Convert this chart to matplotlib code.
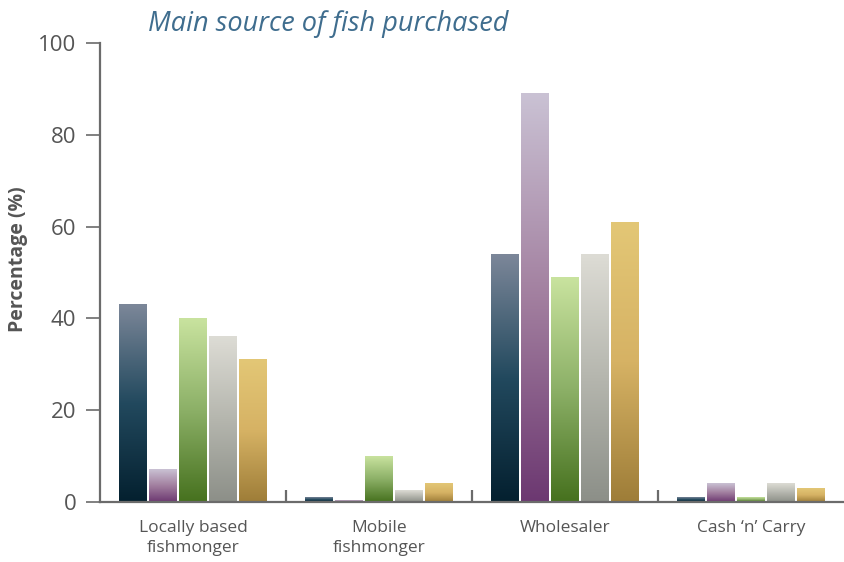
"""Main source of fish purchased: grouped bars with vertical gradients."""

import matplotlib

matplotlib.use("Agg")
import matplotlib.pyplot as plt
import numpy as np
from matplotlib.colors import LinearSegmentedColormap

# --- data -------------------------------------------------------------------
categories = ["Locally based\nfishmonger", "Mobile\nfishmonger", "Wholesaler", "Cash \u2018n\u2019 Carry"]
series_a = [43, 1, 54, 1]      # navy
series_b = [7, 0.3, 89, 4]     # purple
series_c = [40, 10, 49, 1]     # green
series_d = [36, 2.5, 54, 4]    # grey
series_e = [31, 4, 61, 3]      # gold
y_ticks = [0, 20, 40, 60, 80, 100]

# top -> bottom colour of each bar's gradient
GRADIENTS = [
    ("#7c8799", "#22495e", "#04202f"),
    ("#cac2d4", "#a27f9f", "#6c3871"),
    ("#c9e39f", "#8cb067", "#46711e"),
    ("#dddcd5", "#b5b6ae", "#8c8f88"),
    ("#e3c776", "#d6b264", "#9e7d38"),
]
AXIS = "#6b6b6b"
TEXT = "#555555"

plt.rcParams["font.family"] = ["Open Sans", "DejaVu Sans"]

fig = plt.figure(figsize=(8.44, 5.62), dpi=100)
ax = fig.add_axes([0.1185, 0.1068, 0.8815, 0.8167])

x = np.arange(len(categories))
step = 0.161
width = 0.150
all_series = [series_a, series_b, series_c, series_d, series_e]

for i, (vals, cols) in enumerate(zip(all_series, GRADIENTS)):
    bars = ax.bar(x + (i - 2) * step, vals, width=width, color="none", lw=0)
    cmap = LinearSegmentedColormap.from_list(f"g{i}", list(cols)[::-1])
    grad = np.linspace(0, 1, 256).reshape(-1, 1)
    for b in bars:
        x0, y0 = b.get_x(), b.get_y()
        ax.imshow(grad, cmap=cmap, origin="lower", aspect="auto",
                  extent=(x0, x0 + b.get_width(), y0, y0 + b.get_height()),
                  interpolation="bicubic", zorder=2)

ax.set_xlim(-0.5, len(categories) - 0.5)
ax.set_ylim(0, 100)

for side in ("top", "right"):
    ax.spines[side].set_visible(False)
for side in ("left", "bottom"):
    ax.spines[side].set_color(AXIS)
    ax.spines[side].set_linewidth(1.6)

ax.set_yticks(y_ticks)
ax.tick_params(axis="y", length=10, width=1.2, color=AXIS, pad=7,
               labelsize=16, labelcolor=TEXT)

# category boundaries as inward major ticks, labels on minor ticks
ax.set_xticks(np.arange(0.5, len(categories) - 0.5, 1.0))
ax.set_xticklabels([])
ax.tick_params(axis="x", which="major", direction="in", length=9, width=1.6,
               color=AXIS)
ax.set_xticks(x, minor=True)
ax.set_xticklabels(categories, minor=True, fontsize=12.5, color=TEXT,
                   linespacing=1.3)
ax.tick_params(axis="x", which="minor", length=0, pad=13)

ax.set_ylabel("Percentage (%)", fontsize=14, fontweight="bold", color=TEXT)
ax.yaxis.set_label_coords(-0.097, 0.53)

fig.text(0.175, 0.958, "Main source of fish purchased", fontsize=19.5,
         style="italic", color="#3f6d8e", ha="left", va="center")

fig.savefig("out.png", dpi=100)
